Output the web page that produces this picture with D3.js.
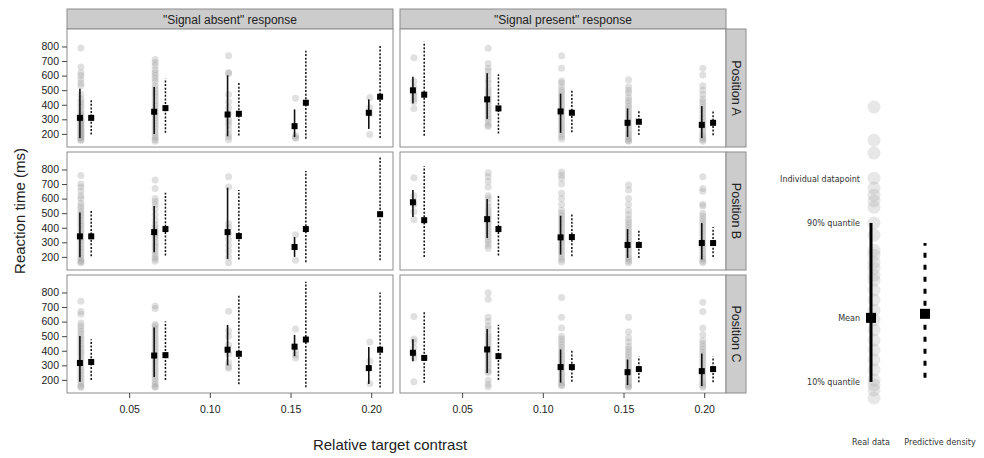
<!DOCTYPE html>
<html>
<head>
<meta charset="utf-8">
<script src="https://cdnjs.cloudflare.com/ajax/libs/d3/7.8.5/d3.min.js"></script>
<style>
  body { margin: 0; background: #fff; }
  text { font-family: "Liberation Sans", Arial, sans-serif; fill: #222; }
  .leg text { font-family: "DejaVu Sans", sans-serif; fill: #333; }
</style>
</head>
<body>
<div id="container"></div>
<script>
let w = 984;
let h = 458;

// data: indexed [response][position][contrast]
let responses = ['"Signal absent" response', '"Signal present" response'];
let positions = ["Position A", "Position B", "Position C"];
let contrast = [0.0195, 0.0655, 0.111, 0.1525, 0.1985];
let predOffset = 0.007;
let yTicks = [200, 300, 400, 500, 600, 700, 800];
let xTicks = [0.05, 0.10, 0.15, 0.20];

let realMean = [
  [[310, 352, 333, 253, 345], [341, 370, 370, 268, null], [316, 367, 407, 428, 281]],
  [[499, 437, 354, 276, 262], [575, 459, 334, 282, 295], [386, 409, 288, 253, 260]]
];
let realLo = [
  [[172, 200, 184, 179, 234], [198, 232, 186, 200, null], [188, 219, 300, 363, 172]],
  [[409, 303, 207, 179, 172], [473, 330, 216, 193, 182], [328, 247, 181, 165, 158]]
];
let realHi = [
  [[510, 522, 602, 368, 437], [505, 550, 675, 336, null], [502, 560, 577, 509, 426]],
  [[593, 616, 476, 375, 391], [659, 598, 482, 391, 432], [479, 549, 409, 340, 381]]
];
let predMean = [
  [[310, 377, 338, 414, 455], [341, 391, 343, 391, 493], [323, 370, 379, 477, 407]],
  [[469, 375, 345, 283, 276], [452, 391, 336, 282, 295], [351, 363, 288, 274, 274]]
];
let predLo = [
  [[195, 207, 189, 166, 172], [205, 209, 182, 164, 177], [200, 200, 170, 149, 147]],
  [[188, 202, 211, 193, 191], [200, 209, 205, 193, 200], [181, 200, 188, 184, 184]]
];
let predHi = [
  [[437, 580, 559, 770, 816], [523, 641, 659, 789, 886], [479, 602, 786, 874, 800]],
  [[832, 609, 506, 363, 356], [823, 620, 495, 386, 405], [670, 579, 405, 358, 358]]
];

// individual reaction times
let points = [
  [ // signal absent
    [ // A
      [790, 660, 620, 600, 575, 550, 530, 470, 440, 420, 400, 385, 360, 345, 330, 315, 300, 290, 280, 268, 260, 250, 238, 230, 220, 210, 200, 192, 180, 172, 162, 155],
      [710, 690, 670, 640, 620, 600, 580, 560, 530, 510, 490, 470, 452, 430, 410, 392, 370, 350, 332, 310, 290, 272, 250, 232, 210, 190, 175, 160, 150],
      [736, 621, 615, 470, 420, 380, 340, 300, 280, 260, 230, 200, 180, 160],
      [444, 190, 175, 170],
      [450, 380, 340, 195]
    ],
    [ // B
      [759, 700, 680, 650, 620, 600, 570, 550, 530, 510, 490, 470, 450, 430, 412, 390, 370, 350, 330, 310, 292, 270, 250, 230, 210, 190, 175, 165, 160],
      [727, 670, 600, 580, 560, 530, 490, 450, 420, 400, 380, 360, 340, 322, 300, 280, 262, 240, 220, 200, 185, 170],
      [750, 680, 430, 400, 360, 320, 280, 240, 200, 160],
      [352, 177],
      []
    ],
    [ // C
      [740, 670, 650, 590, 570, 550, 530, 510, 490, 470, 450, 430, 410, 390, 372, 350, 330, 310, 290, 270, 250, 230, 210, 190, 170, 155, 150],
      [707, 690, 580, 570, 550, 530, 510, 490, 470, 450, 430, 410, 390, 370, 350, 330, 310, 290, 270, 250, 230, 210, 190, 170, 155, 150],
      [672, 537, 500, 440, 380, 320, 290, 280],
      [549, 400, 370, 350],
      [460, 330, 175]
    ]
  ],
  [ // signal present
    [ // A
      [722, 560, 520, 480, 460, 440, 420, 375],
      [788, 683, 650, 630, 600, 570, 550, 520, 500, 480, 460, 440, 420, 400, 380, 360, 340, 320, 300, 280, 260, 250],
      [736, 650, 563, 550, 520, 500, 480, 460, 440, 420, 400, 380, 360, 340, 320, 300, 280, 260, 240, 220, 200, 180, 165],
      [572, 524, 500, 480, 450, 430, 410, 390, 370, 350, 330, 310, 290, 270, 250, 230, 210, 195, 180, 165, 155, 150],
      [651, 605, 530, 500, 470, 440, 420, 400, 380, 360, 340, 320, 300, 280, 260, 240, 220, 200, 185, 170, 160, 150]
    ],
    [ // B
      [743, 620, 580, 560, 510, 455],
      [777, 750, 720, 680, 620, 600, 570, 540, 520, 500, 480, 460, 440, 420, 400, 380, 360, 340, 320, 300, 280, 259],
      [782, 760, 740, 700, 636, 600, 560, 520, 500, 480, 460, 440, 420, 400, 380, 360, 340, 320, 300, 280, 260, 240, 220, 200, 180, 165],
      [693, 660, 600, 560, 520, 490, 460, 440, 420, 400, 380, 360, 340, 320, 300, 280, 260, 240, 220, 200, 185, 170, 160],
      [750, 670, 650, 561, 550, 500, 480, 460, 440, 420, 400, 380, 360, 340, 320, 300, 280, 260, 240, 220, 200, 185, 170, 160]
    ],
    [ // C
      [635, 480, 460, 420, 380, 350, 188],
      [798, 753, 630, 600, 570, 550, 520, 500, 480, 460, 440, 420, 400, 380, 360, 340, 320, 300, 280, 260, 250, 200, 170, 153],
      [765, 630, 556, 500, 480, 460, 440, 420, 400, 380, 360, 340, 320, 300, 280, 260, 240, 220, 200, 180, 165, 160],
      [630, 530, 490, 460, 430, 410, 390, 370, 350, 330, 310, 290, 270, 250, 230, 210, 195, 180, 165, 155, 150],
      [733, 670, 556, 510, 470, 450, 430, 410, 390, 370, 350, 330, 310, 290, 270, 250, 230, 210, 190, 175, 160, 150]
    ]
  ]
];

// legend sample column
let legendPoints = [800, 726, 697, 641, 619, 603, 590, 576, 541, 514, 480, 469, 453, 440, 424, 413, 391, 369, 346, 324, 302, 279, 257, 235, 213, 190, 179, 168, 150];
let legendReal = [186, 329, 541];   // lo, mean, hi
let legendPred = [195, 338, 496];
let legendLabels = ["Individual datapoint", "90% quantile", "Mean", "10% quantile"];
let legendLabelValues = [640, 541, 329, 186];

// layout
let colLeft = [67, 400];
let colW = 326;
let rowTop = [29, 152, 275];
let rowH = 118;
let stripTop = 9;
let stripH = 20;
let sideW = 20;

let viz = d3.select("#container").append("svg")
    .attr("width", w)
    .attr("height", h)
;

responses.forEach(function(resp, r){
  let x = d3.scaleLinear().domain([0.0115, 0.2135]).range([colLeft[r], colLeft[r] + colW]);

  // top strip
  viz.append("rect")
    .attr("x", colLeft[r]).attr("y", stripTop)
    .attr("width", colW).attr("height", stripH)
    .attr("fill", "#cccccc").attr("stroke", "#8c8c8c");
  viz.append("text")
    .text(resp)
    .attr("x", colLeft[r] + colW / 2).attr("y", stripTop + 14.5)
    .attr("text-anchor", "middle")
    .attr("font-size", 12);

  positions.forEach(function(pos, p){
    let y = d3.scaleLinear().domain([110, 920]).range([rowTop[p] + rowH, rowTop[p]]);
    let g = viz.append("g");

    g.append("rect")
      .attr("x", colLeft[r]).attr("y", rowTop[p])
      .attr("width", colW).attr("height", rowH)
      .attr("fill", "white").attr("stroke", "#8c8c8c");

    // raw points
    contrast.forEach(function(c, i){
      g.selectAll(".pt" + i).data(points[r][p][i]).enter()
        .append("circle")
        .attr("cx", x(c) + 1)
        .attr("cy", function(d){ return y(d); })
        .attr("r", 3.5)
        .attr("fill", "#a0a0a0")
        .attr("fill-opacity", 0.32);
    });

    let idx = d3.range(contrast.length);
    let realIdx = idx.filter(function(i){ return realMean[r][p][i] != null; });

    // real data quantile lines
    g.selectAll(".rl").data(realIdx).enter()
      .append("line")
      .attr("x1", function(i){ return x(contrast[i]); })
      .attr("x2", function(i){ return x(contrast[i]); })
      .attr("y1", function(i){ return y(realLo[r][p][i]); })
      .attr("y2", function(i){ return y(realHi[r][p][i]); })
      .attr("stroke", "#111").attr("stroke-width", 1.6);

    // predictive lines
    g.selectAll(".pl").data(idx).enter()
      .append("line")
      .attr("x1", function(i){ return x(contrast[i] + predOffset); })
      .attr("x2", function(i){ return x(contrast[i] + predOffset); })
      .attr("y1", function(i){ return y(predLo[r][p][i]); })
      .attr("y2", function(i){ return y(predHi[r][p][i]); })
      .attr("stroke", "#111").attr("stroke-width", 1.5)
      .attr("stroke-dasharray", "2,1.6");

    // means
    let s = 6;
    g.selectAll(".rm").data(realIdx).enter()
      .append("rect")
      .attr("x", function(i){ return x(contrast[i]) - s / 2; })
      .attr("y", function(i){ return y(realMean[r][p][i]) - s / 2; })
      .attr("width", s).attr("height", s)
      .attr("fill", "black");
    g.selectAll(".pm").data(idx).enter()
      .append("rect")
      .attr("x", function(i){ return x(contrast[i] + predOffset) - s / 2; })
      .attr("y", function(i){ return y(predMean[r][p][i]) - s / 2; })
      .attr("width", s).attr("height", s)
      .attr("fill", "black");

    // y axis on left column
    if (r == 0) {
      let ya = viz.append("g")
        .attr("transform", "translate(" + colLeft[0] + ",0)")
        .call(d3.axisLeft(y).tickValues(yTicks).tickSize(5).tickPadding(3));
      ya.select(".domain").remove();
      ya.selectAll("line").attr("stroke", "#444");
      ya.selectAll("text").attr("font-size", 10.5).attr("font-family", "Liberation Sans, Arial, sans-serif").attr("fill", "#222");
    }

    // side strip on right column
    if (r == 1) {
      let sx = colLeft[1] + colW;
      viz.append("rect")
        .attr("x", sx).attr("y", rowTop[p])
        .attr("width", sideW).attr("height", rowH)
        .attr("fill", "#cccccc").attr("stroke", "#8c8c8c");
      viz.append("text")
        .text(pos)
        .attr("transform", "translate(" + (sx + 6) + "," + (rowTop[p] + rowH / 2) + ") rotate(90)")
        .attr("text-anchor", "middle")
        .attr("font-size", 12.5);
    }

    // x axis under bottom row
    if (p == positions.length - 1) {
      let xa = viz.append("g")
        .attr("transform", "translate(0," + (rowTop[p] + rowH) + ")")
        .call(d3.axisBottom(x).tickValues(xTicks).tickFormat(d3.format(".2f")).tickSize(5).tickPadding(8));
      xa.select(".domain").remove();
      xa.selectAll("line").attr("stroke", "#444");
      xa.selectAll("text").attr("font-size", 10.5).attr("font-family", "Liberation Sans, Arial, sans-serif").attr("fill", "#222");
    }
  });
});

// axis titles
viz.append("text")
  .text("Reaction time (ms)")
  .attr("transform", "translate(25," + (rowTop[1] + rowH / 2) + ") rotate(-90)")
  .attr("text-anchor", "middle")
  .attr("font-size", 15);
viz.append("text")
  .text("Relative target contrast")
  .attr("x", 390).attr("y", 450)
  .attr("text-anchor", "middle")
  .attr("font-size", 15);

// legend
let leg = viz.append("g").attr("class", "leg");
let ly = d3.scaleLinear().domain([150, 800]).range([398, 107]);
let lxReal = 871;
let lxPred = 925;

leg.selectAll("circle").data(legendPoints).enter()
  .append("circle")
  .attr("cx", lxReal + 3)
  .attr("cy", function(d){ return ly(d); })
  .attr("r", 6.5)
  .attr("fill", "#a8a8a8")
  .attr("fill-opacity", 0.27);
leg.append("line")
  .attr("x1", lxReal).attr("x2", lxReal)
  .attr("y1", ly(legendReal[0])).attr("y2", ly(legendReal[2]))
  .attr("stroke", "black").attr("stroke-width", 3);
leg.append("rect")
  .attr("x", lxReal - 5).attr("y", ly(legendReal[1]) - 5)
  .attr("width", 10).attr("height", 10).attr("fill", "black");
leg.append("line")
  .attr("x1", lxPred).attr("x2", lxPred)
  .attr("y1", ly(legendPred[0])).attr("y2", ly(legendPred[2]))
  .attr("stroke", "black").attr("stroke-width", 3)
  .attr("stroke-dasharray", "5,7");
leg.append("rect")
  .attr("x", lxPred - 5).attr("y", ly(legendPred[1]) - 5)
  .attr("width", 10).attr("height", 10).attr("fill", "black");

leg.selectAll(".ll").data(legendLabels).enter()
  .append("text")
  .text(function(d){ return d; })
  .attr("x", 860)
  .attr("y", function(d, i){ return ly(legendLabelValues[i]) + 3; })
  .attr("text-anchor", "end")
  .attr("font-size", 8);
leg.append("text").text("Real data")
  .attr("x", lxReal).attr("y", 445).attr("text-anchor", "middle").attr("font-size", 8);
leg.append("text").text("Predictive density")
  .attr("x", 940).attr("y", 445).attr("text-anchor", "middle").attr("font-size", 8);
</script>
</body>
</html>
